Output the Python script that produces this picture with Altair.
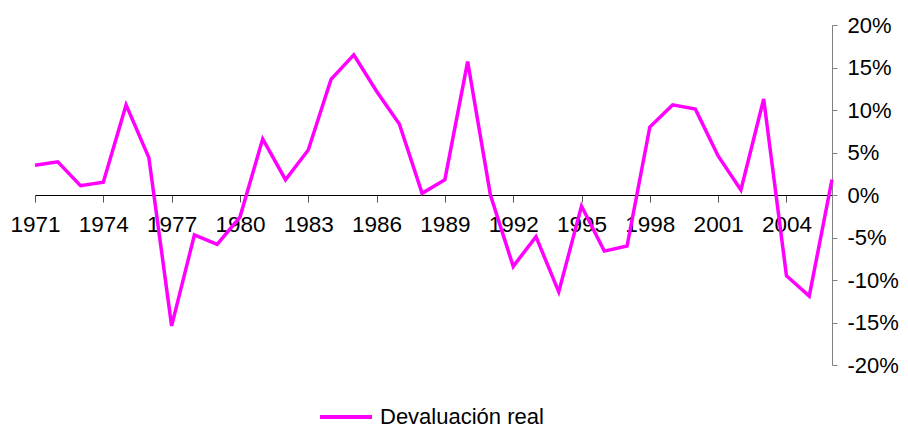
import altair as alt
import pandas as pd

years = list(range(1971, 2007))
values = [3.5, 3.9, 1.1, 1.5, 10.6, 4.4, -15.4, -4.7, -5.8, -2.6,
          6.6, 1.8, 5.3, 13.6, 16.5, 12.2, 8.35, 0.2, 1.8, 15.7,
          0.0, -8.4, -4.9, -11.4, -1.3, -6.6, -6.0, 8.0, 10.6, 10.1,
          4.6, 0.6, 11.3, -9.5, -11.9, 1.8]
series_name = "Devaluación real"
x_ticks = list(range(1971, 2005, 3))
y_ticks = [-20, -15, -10, -5, 0, 5, 10, 15, 20]

df = pd.DataFrame({"year": years, "value": values, "serie": [series_name] * len(years)})

FONT = "Liberation Sans"

chart = alt.Chart(df).mark_line(strokeWidth=3.5, strokeJoin="miter").encode(
    x=alt.X("year:Q",
            scale=alt.Scale(domain=[1971, 2006], nice=False, zero=False),
            axis=alt.Axis(values=x_ticks, format="d", title=None, grid=False,
                          offset=-170, tickSize=7, tickColor="#555555",
                          domainColor="#000000", domainWidth=1,
                          labelFontSize=22.5, labelFont=FONT, labelColor="#000000",
                          labelPadding=11, labelOverlap=False, labelFlush=False)),
    y=alt.Y("value:Q",
            scale=alt.Scale(domain=[-20, 20], nice=False),
            axis=alt.Axis(orient="right", values=y_ticks, labelExpr="datum.value + '%'",
                          title=None, grid=False, tickSize=5, tickColor="#808080",
                          domainColor="#808080", domainWidth=1,
                          labelFontSize=22, labelFont=FONT, labelColor="#000000",
                          labelPadding=10, labelOverlap=False, labelFlush=False)),
    color=alt.Color("serie:N", scale=alt.Scale(range=["#FF00FF"]),
                    legend=alt.Legend(title=None, orient="none", legendX=283, legendY=364,
                                      symbolType="stroke", symbolSize=2704,
                                      symbolStrokeWidth=4, labelFontSize=22,
                                      labelFont=FONT, labelColor="#000000",
                                      labelOffset=6, labelLimit=400, padding=0)),
).properties(
    width=797, height=340,
    autosize="none",
    background="white",
    padding={"left": 27, "top": 17, "right": 68, "bottom": 63},
).configure_view(stroke=None)

chart.save("out.html", embed_options={"renderer": "svg", "actions": False})
